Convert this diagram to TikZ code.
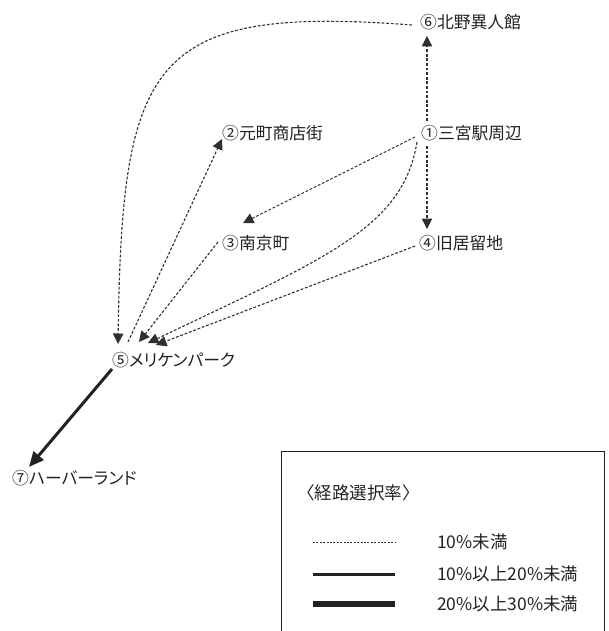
\documentclass[tikz,border=0pt]{standalone}
\usepackage{fontspec}
\setmainfont{Noto Sans CJK JP}[RawFeature={+palt}]
\usetikzlibrary{arrows.meta,calc}
\definecolor{ink}{HTML}{222222}
\definecolor{lineink}{HTML}{303030}
\begin{document}
\begin{tikzpicture}[x=1pt,y=-1pt,
  place/.style={anchor=west,inner sep=0pt,text=ink,font=\fontsize{16.8}{20}\selectfont},
  lowroute/.style={draw=lineink,line width=1.1pt,dash pattern=on 2.8pt off 1.8pt,
     -{Triangle[width=10.5pt,length=10.5pt]}},
  midroute/.style={draw=ink,line width=3pt,-{Triangle[width=13pt,length=15pt]}},
  legtext/.style={anchor=west,inner sep=0pt,text=ink,font=\fontsize{17.5}{20}\selectfont}]
\useasboundingbox (0,0) rectangle (608,631);
% places
\node[place] (n6) at (420,22) {⑥北野異人館};
\node[place] (n1) at (421,133) {①三宮駅周辺};
\node[place] (n2) at (222,133) {②元町商店街};
\node[place] (n3) at (222,243) {③南京町};
\node[place] (n4) at (419,243) {④旧居留地};
\node[place] (n5) at (112,360) {⑤メリケンパーク};
\node[place] (n7) at (12,478) {⑦ハーバーランド};
% routes
\draw[lowroute] ($(n1.west)+(6,-12)$) -- ($(n6.west)+(7,14)$);
\draw[lowroute] ($(n1.west)+(6,13)$) -- ($(n4.west)+(8,-14)$);
\draw[lowroute] ($(n1.west)+(-6,4)$) -- ($(n3.west)+(21,-20)$);
\draw[lowroute] ($(n1.west)+(-4,9)$) .. controls ($(n1.west)+(-18,95)$) and ($(n1.west)+(-95,125)$) .. ($(n5.west)+(36,-17)$);
\draw[lowroute] ($(n4.west)+(-4,3)$) -- ($(n5.west)+(44,-15)$);
\draw[lowroute] ($(n3.west)+(-4,-1)$) -- ($(n5.west)+(27,-18)$);
\draw[lowroute] ($(n5.west)+(16,-18)$) -- ($(n2.west)+(0,6)$);
\draw[lowroute] ($(n6.west)+(-8,3)$) .. controls (150,5) and (122,60) .. ($(n5.west)+(6,-16)$);
\draw[midroute] ($(n5.west)+(0,9)$) -- ($(n7.west)+(17,-11)$);
% legend
\begin{scope}
\clip (0,0) rectangle (608,631);
\node[draw=ink,line width=1pt,inner sep=0pt,minimum width=323pt,minimum height=200pt,anchor=north west] (box) at (281,451) {};
\end{scope}
\node[legtext] (lt) at (306,493) {〈経路選択率〉};
\coordinate (l1a) at (313,542); \coordinate (l1b) at (395,542);
\coordinate (l2a) at (313,574); \coordinate (l2b) at (395,574);
\coordinate (l3a) at (313,604); \coordinate (l3b) at (395,604);
\draw[draw=lineink,line width=1pt,dash pattern=on 2pt off 1.4pt] (l1a) -- (l1b);
\draw[draw=ink,line width=3pt] (l2a) -- (l2b);
\draw[draw=ink,line width=6pt] (l3a) -- (l3b);
\node[legtext] (k1) at (437,542) {10\%未満};
\node[legtext] (k2) at (437,574) {10\%以上20\%未満};
\node[legtext] (k3) at (437,604) {20\%以上30\%未満};
\end{tikzpicture}
\end{document}
